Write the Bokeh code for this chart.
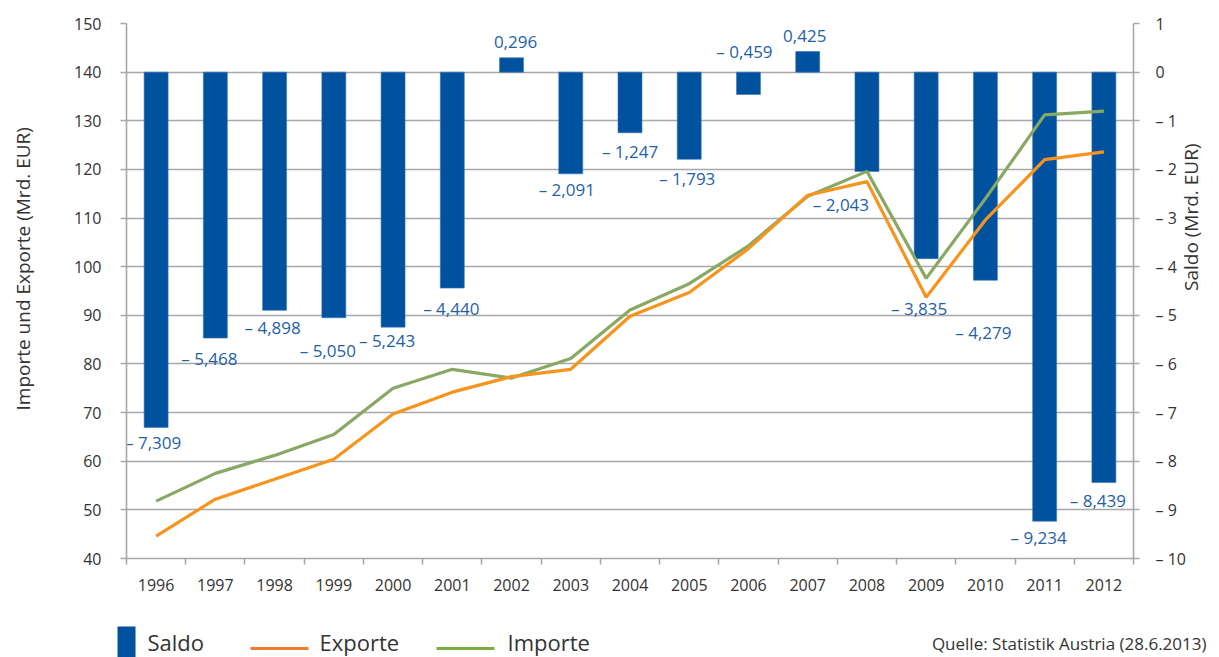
import math
from bokeh.plotting import figure
from bokeh.models import (Range1d, LinearAxis, FixedTicker, ColumnDataSource, Label)
from bokeh.core.properties import value
from bokeh.embed import file_html
from bokeh.resources import INLINE

# ---------------- data ----------------
years = ["1996", "1997", "1998", "1999", "2000", "2001", "2002", "2003", "2004",
         "2005", "2006", "2007", "2008", "2009", "2010", "2011", "2012"]
exporte = [44.6, 52.2, 56.3, 60.4, 69.7, 74.2, 77.4, 78.9, 89.8,
           94.7, 103.7, 114.7, 117.5, 93.7, 109.6, 122.0, 123.6]
importe = [51.8, 57.5, 61.2, 65.5, 75.0, 78.9, 77.1, 81.1, 91.1,
           96.5, 104.3, 114.5, 119.6, 97.6, 114.0, 131.2, 132.0]
saldo = [-7.309, -5.468, -4.898, -5.050, -5.243, -4.440, 0.296, -2.091, -1.247,
         -1.793, -0.459, 0.425, -2.043, -3.835, -4.279, -9.234, -8.439]
saldo_text = ["– 7,309", "– 5,468", "– 4,898", "– 5,050", "– 5,243", "– 4,440", "0,296",
              "– 2,091", "– 1,247", "– 1,793", "– 0,459", "0,425", "– 2,043", "– 3,835",
              "– 4,279", "– 9,234", "– 8,439"]
left_ticks = [40, 50, 60, 70, 80, 90, 100, 110, 120, 130, 140, 150]
right_ticks = [-10, -9, -8, -7, -6, -5, -4, -3, -2, -1, 0, 1]
legend_names = ["Saldo", "Exporte", "Importe"]
source_note = "Quelle: Statistik Austria (28.6.2013)"

# label placement (pixel offsets relative to bar end, styling only)
label_dx = [-3, -6, -2, -6, -6, -1, 4, -4, 0, -2, -4, -3, -26, -7, -2, -6, -6]
label_dy = [15, 20, 17, 33, 13, 20, -16, 16, 19, 19, -43, -15, 33, 50, 52, 16, 18]

FONT = "Open Sans"
BAR = "#00519E"
ORANGE = "#F7941E"
GREEN = "#88A864"
LBLUE = "#1F5FA8"
GRID = "#A6A8AB"
TXT = "#333333"

idx = list(range(len(years)))
src = ColumnDataSource(dict(x=idx, exp=exporte, imp=importe, saldo=saldo,
                            txt=saldo_text, dx=label_dx, dy=label_dy))

W = 1219
H_MAIN = 600
H_LEG = 57

p = figure(width=W, height=H_MAIN, output_backend="svg", toolbar_location=None,
           x_range=Range1d(-0.5, len(years) - 0.5), y_range=Range1d(40, 150),
           min_border_left=126, min_border_right=84, min_border_top=23,
           min_border_bottom=42)
p.outline_line_color = None
p.background_fill_color = "white"
p.border_fill_color = "white"
p.extra_y_ranges = {"saldo": Range1d(-10, 1)}

# grid
p.xgrid.visible = False
p.ygrid.ticker = FixedTicker(ticks=left_ticks)
p.ygrid.grid_line_color = GRID
p.ygrid.grid_line_width = 1.6

# x axis
xa = p.xaxis[0]
xa.ticker = FixedTicker(ticks=idx, minor_ticks=[i - 0.5 for i in range(len(years) + 1)])
xa.major_label_overrides = {i: y for i, y in enumerate(years)}
xa.major_tick_out = 0
xa.major_tick_in = 0
xa.minor_tick_out = 6
xa.minor_tick_in = 0
xa.minor_tick_line_color = GRID
xa.minor_tick_line_width = 1.6
xa.axis_line_color = GRID
xa.axis_line_width = 1.6
xa.major_label_text_font = FONT
xa.major_label_text_font_size = "16px"
xa.major_label_text_color = TXT
xa.major_label_standoff = 14

# left axis
ya = p.yaxis[0]
ya.ticker = FixedTicker(ticks=left_ticks)
ya.axis_label = "\u00a0" * 9 + "Importe und Exporte (Mrd. EUR)"
ya.axis_label_text_font = FONT
ya.axis_label_text_font_size = "19px"
ya.axis_label_text_font_style = "normal"
ya.axis_label_text_color = TXT
ya.axis_label_standoff = 35
ya.major_label_text_font = FONT
ya.major_label_text_font_size = "16px"
ya.major_label_text_color = TXT
ya.major_label_standoff = 19
ya.major_tick_out = 6
ya.major_tick_in = 0
ya.minor_tick_out = 0
ya.minor_tick_in = 0
ya.major_tick_line_color = GRID
ya.major_tick_line_width = 1.6
ya.axis_line_color = GRID
ya.axis_line_width = 1.6

# right axis
ra = LinearAxis(y_range_name="saldo", ticker=FixedTicker(ticks=right_ticks))
ra.major_label_overrides = {t: ("– %d" % (-t)) if t < 0 else str(t) for t in right_ticks}
ra.major_label_text_font = FONT
ra.major_label_text_font_size = "16px"
ra.major_label_text_color = TXT
ra.major_label_standoff = 16
ra.major_tick_out = 6
ra.major_tick_in = 0
ra.minor_tick_out = 0
ra.minor_tick_in = 0
ra.major_tick_line_color = GRID
ra.major_tick_line_width = 1.6
ra.axis_line_color = GRID
ra.axis_line_width = 1.6
if hasattr(ra, "axis_label_orientation"):
    ra.axis_label = "Saldo (Mrd. EUR)"
    ra.axis_label_orientation = math.pi / 2
    ra.axis_label_text_font = FONT
    ra.axis_label_text_font_size = "19px"
    ra.axis_label_text_font_style = "normal"
    ra.axis_label_text_color = TXT
    ra.axis_label_standoff = 2
else:
    p.add_layout(Label(x=len(years) - 0.5, y=-4.5, y_range_name="saldo", x_offset=70,
                       text="Saldo (Mrd. EUR)", angle=math.pi / 2, text_align="center",
                       text_baseline="middle", text_font=FONT, text_font_size="19px",
                       text_color=TXT))
p.add_layout(ra, "right")

# bars
p.vbar(x="x", width=0.405, top="saldo", bottom=0, source=src, y_range_name="saldo",
       fill_color=BAR, line_color="#3A78B8", line_width=0.6)

# lines
p.line("x", "imp", source=src, line_color=GREEN, line_width=3.2)
p.line("x", "exp", source=src, line_color=ORANGE, line_width=3.2)

# bar labels
p.text(x="x", y="saldo", text="txt", source=src, y_range_name="saldo",
       x_offset="dx", y_offset="dy", text_align="center", text_baseline="middle",
       text_font=value(FONT), text_font_size="17px", text_color=LBLUE)

# ---------------- legend / source strip (separate root, pixel-like coords) ----------------
leg = figure(width=W, height=H_LEG, output_backend="svg", toolbar_location=None,
             x_range=Range1d(0, W), y_range=Range1d(H_LEG, 0),
             min_border=0, min_border_left=0, min_border_right=0,
             min_border_top=0, min_border_bottom=0)
leg.axis.visible = False
leg.grid.visible = False
leg.outline_line_color = None
leg.background_fill_color = "white"
leg.border_fill_color = "white"

leg.quad(left=[117], right=[135], top=[26], bottom=[70], fill_color=BAR, line_color=None)
leg.line(x=[250, 308], y=[48, 48], line_color="#EE7B30", line_width=3)
leg.line(x=[436, 494], y=[48, 48], line_color="#7BAE3C", line_width=3)
leg.text(x=[147, 319, 507], y=[41, 41, 41], text=legend_names,
         text_align="left", text_baseline="middle", text_font=value(FONT),
         text_font_size="22px", text_color=TXT)
leg.text(x=[1206], y=[43], text=[source_note],
         text_align="right", text_baseline="middle", text_font=value(FONT),
         text_font_size="17px", text_color=TXT)

open("out.html", "w").write(file_html([p, leg], INLINE))
